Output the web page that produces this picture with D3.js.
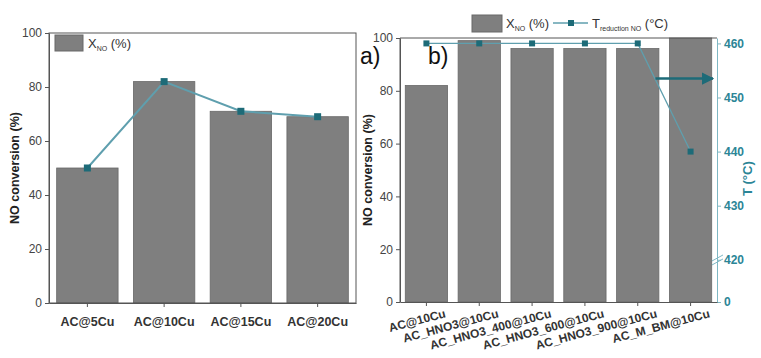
<!DOCTYPE html>
<html>
<head>
<meta charset="utf-8">
<script src="https://cdn.jsdelivr.net/npm/d3@7"></script>
<style>
  body { margin: 0; background: #fff; }
  svg { display: block; font-family: "Liberation Sans", Arial, sans-serif; }
</style>
</head>
<body>
<div id="chart"></div>
<script>
// panel a
const catsA = ['AC@5Cu', 'AC@10Cu', 'AC@15Cu', 'AC@20Cu'];
const convA = [50, 82, 71, 69];
// panel b
const catsB = ['AC@10Cu', 'AC_HNO3@10Cu', 'AC_HNO3_400@10Cu', 'AC_HNO3_600@10Cu', 'AC_HNO3_900@10Cu', 'AC_M_BM@10Cu'];
const convB = [82, 99, 96, 96, 96, 100];
const tempB = [460, 460, 460, 460, 460, 440];
// ticks
const convTicks = [0, 20, 40, 60, 80, 100];
const tempTicks = [0, 420, 430, 440, 450, 460];

const barFill = '#7f7f7f', barStroke = '#686868';
const lineCol = '#5f9fae', markCol = '#1d6b78', teal = '#2b8596';

const svg = d3.select('#chart').append('svg')
  .attr('width', 761).attr('height', 358);

// ---------- panel a ----------
const a = { left: 49, top: 33, width: 307, height: 270 };
const gA = svg.append('g').attr('transform', `translate(${a.left},${a.top})`);

const xA = d3.scaleBand().domain(catsA).range([0, a.width])
  .paddingInner(0.2).paddingOuter(0.1);
const yA = d3.scaleLinear().domain([0, 100]).range([a.height, 0]);

gA.selectAll('rect.bar').data(catsA).enter().append('rect')
  .attr('class', 'bar')
  .attr('x', d => xA(d))
  .attr('y', (d, i) => yA(convA[i]))
  .attr('width', xA.bandwidth())
  .attr('height', (d, i) => a.height - yA(convA[i]))
  .attr('fill', barFill).attr('stroke', barStroke).attr('stroke-width', 0.8);

const lineA = d3.line()
  .x((d, i) => xA(catsA[i]) + xA.bandwidth() / 2)
  .y(d => yA(d));
gA.append('path').datum(convA)
  .attr('fill', 'none').attr('stroke', lineCol).attr('stroke-width', 2)
  .attr('d', lineA);
gA.selectAll('rect.mk').data(convA).enter().append('rect')
  .attr('class', 'mk')
  .attr('x', (d, i) => xA(catsA[i]) + xA.bandwidth() / 2 - 3.5)
  .attr('y', d => yA(d) - 3.5)
  .attr('width', 7).attr('height', 7).attr('fill', markCol);

// frame
gA.append('rect').attr('width', a.width).attr('height', a.height)
  .attr('fill', 'none').attr('stroke', '#555').attr('stroke-width', 1);

const axA = gA.append('g')
  .call(d3.axisLeft(yA).tickValues(convTicks).tickSize(4).tickSizeOuter(0));
axA.select('.domain').attr('stroke', '#555');
axA.selectAll('line').attr('stroke', '#555');
axA.selectAll('text').attr('font-size', 12).attr('fill', '#444');

const bxA = gA.append('g').attr('transform', `translate(0,${a.height})`)
  .call(d3.axisBottom(xA).tickSize(4).tickSizeOuter(0));
bxA.select('.domain').attr('stroke', '#555');
bxA.selectAll('line').attr('stroke', '#555');
bxA.selectAll('text').attr('font-size', 12.5).attr('font-weight', 'bold')
  .attr('fill', '#333').attr('dy', '1.3em');

svg.append('text')
  .attr('transform', `translate(19,${a.top + a.height / 2}) rotate(-90)`)
  .attr('text-anchor', 'middle').attr('font-size', 12.5).attr('font-weight', 'bold')
  .attr('fill', '#222').text('NO conversion (%)');

// legend a
gA.append('rect').attr('x', 6).attr('y', 2).attr('width', 28).attr('height', 16)
  .attr('fill', barFill).attr('stroke', barStroke);
const lgA = gA.append('text').attr('x', 39).attr('y', 15).attr('font-size', 13).attr('fill', '#333');
lgA.append('tspan').text('X');
lgA.append('tspan').attr('font-size', 7).attr('dy', 3).text('NO');
lgA.append('tspan').attr('dy', -3).text(' (%)');

// ---------- panel b ----------
const b = { left: 400, top: 38, width: 317, height: 264 };
const gB = svg.append('g').attr('transform', `translate(${b.left},${b.top})`);

const xB = d3.scaleBand().domain(catsB).range([0, b.width])
  .paddingInner(0.2).paddingOuter(0.1);
const yB = d3.scaleLinear().domain([0, 100]).range([b.height, 0]);
// broken temperature axis: 0 then 420..461
const yT = d3.scaleLinear().domain([0, 420, 461]).range([b.height, b.height * 0.84, 0]);

gB.selectAll('rect.bar').data(catsB).enter().append('rect')
  .attr('class', 'bar')
  .attr('x', d => xB(d))
  .attr('y', (d, i) => yB(convB[i]))
  .attr('width', xB.bandwidth())
  .attr('height', (d, i) => b.height - yB(convB[i]))
  .attr('fill', barFill).attr('stroke', barStroke).attr('stroke-width', 0.8);

const lineB = d3.line()
  .x((d, i) => xB(catsB[i]) + xB.bandwidth() / 2)
  .y(d => yT(d));
gB.append('path').datum(tempB)
  .attr('fill', 'none').attr('stroke', lineCol).attr('stroke-width', 1.3)
  .attr('d', lineB);
gB.selectAll('rect.mk').data(tempB).enter().append('rect')
  .attr('class', 'mk')
  .attr('x', (d, i) => xB(catsB[i]) + xB.bandwidth() / 2 - 3)
  .attr('y', d => yT(d) - 3)
  .attr('width', 6).attr('height', 6).attr('fill', markCol);

// frame (top + left gray)
gB.append('path').attr('d', `M0,${b.height}V0H${b.width}`)
  .attr('fill', 'none').attr('stroke', '#555').attr('stroke-width', 1);

const axB = gB.append('g')
  .call(d3.axisLeft(yB).tickValues(convTicks).tickSize(4).tickSizeOuter(0));
axB.select('.domain').attr('stroke', '#555');
axB.selectAll('line').attr('stroke', '#555');
axB.selectAll('text').attr('font-size', 12).attr('fill', '#444');

const rxB = gB.append('g').attr('transform', `translate(${b.width},0)`)
  .call(d3.axisRight(yT).tickValues(tempTicks).tickSize(4).tickSizeOuter(0));
rxB.select('.domain').attr('stroke', '#7fb8c4');
rxB.selectAll('line').attr('stroke', '#7fb8c4');
rxB.selectAll('text').attr('font-size', 12).attr('font-weight', 'bold').attr('fill', teal);

// axis break marks
const brkY = yT(418);
[-2, 2].forEach(o => {
  gB.append('line')
    .attr('x1', b.width - 5).attr('y1', brkY + o + 3)
    .attr('x2', b.width + 6).attr('y2', brkY + o - 3)
    .attr('stroke', '#7fb8c4').attr('stroke-width', 1);
});

const bxB = gB.append('g').attr('transform', `translate(0,${b.height})`)
  .call(d3.axisBottom(xB).tickSize(4).tickSizeOuter(0));
bxB.select('.domain').attr('stroke', '#555');
bxB.selectAll('line').attr('stroke', '#555');
bxB.selectAll('text')
  .attr('font-size', 12).attr('font-weight', 'bold').attr('fill', '#333')
  .attr('text-anchor', 'end').attr('dy', 0).attr('y', 0)
  .attr('transform', 'translate(20,15) rotate(-15)');

svg.append('text')
  .attr('transform', `translate(372,${b.top + b.height / 2}) rotate(-90)`)
  .attr('text-anchor', 'middle').attr('font-size', 12.5).attr('font-weight', 'bold')
  .attr('fill', '#222').text('NO conversion (%)');

svg.append('text')
  .attr('transform', `translate(752,${b.top + yT(435)}) rotate(-90)`)
  .attr('text-anchor', 'middle').attr('font-size', 13).attr('font-weight', 'bold')
  .attr('fill', teal).text('T (°C)');

// arrow pointing to the right axis
svg.append('defs').append('marker')
  .attr('id', 'ah').attr('viewBox', '0 0 10 10').attr('refX', 9).attr('refY', 5)
  .attr('markerWidth', 5).attr('markerHeight', 5).attr('orient', 'auto')
  .append('path').attr('d', 'M0,0L10,5L0,10Z').attr('fill', markCol);
gB.append('line')
  .attr('x1', xB(catsB[5]) - 14).attr('x2', b.width - 4)
  .attr('y1', yT(453.5)).attr('y2', yT(453.5))
  .attr('stroke', markCol).attr('stroke-width', 2.5)
  .attr('marker-end', 'url(#ah)');

// legend b
svg.append('rect').attr('x', 472).attr('y', 15).attr('width', 30).attr('height', 17)
  .attr('fill', barFill).attr('stroke', barStroke);
const lgB = svg.append('text').attr('x', 506).attr('y', 28).attr('font-size', 13).attr('fill', '#333');
lgB.append('tspan').text('X');
lgB.append('tspan').attr('font-size', 7).attr('dy', 3).text('NO');
lgB.append('tspan').attr('dy', -3).text(' (%)');
svg.append('line').attr('x1', 553).attr('x2', 588).attr('y1', 23).attr('y2', 23)
  .attr('stroke', lineCol).attr('stroke-width', 1.3);
svg.append('rect').attr('x', 568).attr('y', 20).attr('width', 6).attr('height', 6).attr('fill', markCol);
const lgT = svg.append('text').attr('x', 592).attr('y', 28).attr('font-size', 13).attr('fill', '#333');
lgT.append('tspan').text('T');
lgT.append('tspan').attr('font-size', 7).attr('dy', 3).text('reduction NO');
lgT.append('tspan').attr('dy', -3).text(' (°C)');

// panel letters
svg.append('text').attr('x', 360).attr('y', 64).attr('font-size', 23).attr('fill', '#111').text('a)');
svg.append('text').attr('x', 428).attr('y', 64).attr('font-size', 23).attr('fill', '#111').text('b)');
</script>
</body>
</html>
